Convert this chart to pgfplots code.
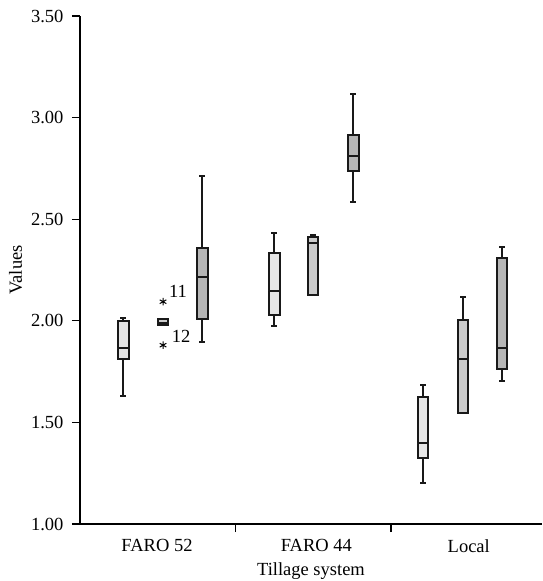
\documentclass[border=0pt]{standalone}
\usepackage{fontspec}
\setmainfont{Liberation Serif}
\usepackage{pgfplots}
\pgfplotsset{compat=1.18}
\usepgfplotslibrary{statistics}

\definecolor{boxA}{RGB}{230,230,230}
\definecolor{boxB}{RGB}{204,204,204}
\definecolor{boxC}{RGB}{182,182,182}

% common look of every box
\pgfplotsset{
  bx/.style={solid, draw=black!90, line width=2pt, mark=none, boxplot/draw direction=y,
    boxplot/every box/.append style={line width=2pt},
    boxplot/every median/.append style={line width=2pt},
    boxplot/every whisker/.append style={line width=2pt}},
}

\begin{document}
\begin{tikzpicture}[font=\fontsize{18.5}{22}\selectfont]
\begin{axis}[
  name=ax,
  scale only axis,
  width=462pt, height=508pt,
  xmin=-0.5, xmax=2.471,
  ymin=1, ymax=3.5,
  axis lines=left,
  axis line style={-, line width=1.3pt},
  every axis plot/.append style={line width=2pt},
  clip=false,
  ytick={1,1.5,2,2.5,3,3.5},
  yticklabel style={font=\fontsize{18.5}{22}\selectfont, xshift=-5pt, /pgf/number format/.cd, fixed, fixed zerofill, precision=2, assume math mode=true},
  xticklabel style={font=\fontsize{18.5}{22}\selectfont, yshift=-4pt},
  label style={font=\fontsize{18.5}{22}\selectfont},
  major tick length=8pt,
  tick align=outside,
  tick style={line width=1.3pt, black},
  xtick={-0.005,1.02,2.0},
  xticklabels={FARO 52,FARO 44,Local},
  major x tick style={draw=none},
  minor xtick={0.5,1.5},
  minor tick length=8pt,
  minor x tick style={line width=1.3pt, black},
  xlabel={Tillage system},
  ylabel={Values},
  xlabel style={yshift=-3pt},
  ylabel style={yshift=2pt},
]
% FARO 52
\addplot[bx, fill=boxA, boxplot prepared={lower whisker=1.63, lower quartile=1.812, median=1.865, upper quartile=2.0, upper whisker=2.015, draw position=-0.223, box extend=0.07, whisker extend=0.035}] coordinates {};
\addplot[bx, fill=boxB, mark=asterisk, mark size=3.8pt, mark options={solid, line width=1pt, black},
  boxplot prepared={lower whisker=1.98, lower quartile=1.98, median=1.99, upper quartile=2.007, upper whisker=2.007, draw position=0.034, box extend=0.07, whisker extend=0.035}]
  table[row sep=\\, y index=0] {y\\ 2.094\\ 1.88\\};
\addplot[bx, fill=boxC, boxplot prepared={lower whisker=1.897, lower quartile=2.007, median=2.217, upper quartile=2.36, upper whisker=2.713, draw position=0.285, box extend=0.07, whisker extend=0.035}] coordinates {};
% FARO 44
\addplot[bx, fill=boxA, boxplot prepared={lower whisker=1.974, lower quartile=2.029, median=2.148, upper quartile=2.332, upper whisker=2.434, draw position=0.748, box extend=0.07, whisker extend=0.035}] coordinates {};
\addplot[bx, fill=boxB, boxplot prepared={lower whisker=2.125, lower quartile=2.125, median=2.381, upper quartile=2.414, upper whisker=2.42, draw position=0.998, box extend=0.07, whisker extend=0.035}] coordinates {};
\addplot[bx, fill=boxC, boxplot prepared={lower whisker=2.585, lower quartile=2.736, median=2.812, upper quartile=2.914, upper whisker=3.116, draw position=1.256, box extend=0.07, whisker extend=0.035}] coordinates {};
% Local
\addplot[bx, fill=boxA, boxplot prepared={lower whisker=1.20, lower quartile=1.323, median=1.397, upper quartile=1.627, upper whisker=1.686, draw position=1.706, box extend=0.07, whisker extend=0.035}] coordinates {};
\addplot[bx, fill=boxB, boxplot prepared={lower whisker=1.545, lower quartile=1.545, median=1.81, upper quartile=2.004, upper whisker=2.116, draw position=1.963, box extend=0.07, whisker extend=0.035}] coordinates {};
\addplot[bx, fill=boxC, boxplot prepared={lower whisker=1.705, lower quartile=1.763, median=1.868, upper quartile=2.311, upper whisker=2.362, draw position=2.214, box extend=0.07, whisker extend=0.035}] coordinates {};
% outlier case numbers
\node at (axis cs:0.130,2.147) {11};
\node at (axis cs:0.150,1.925) {12};
\end{axis}
\pgfresetboundingbox
\path (ax.south west) ++(-80pt,-57pt) rectangle ++(542pt,581pt);
\end{tikzpicture}
\end{document}
